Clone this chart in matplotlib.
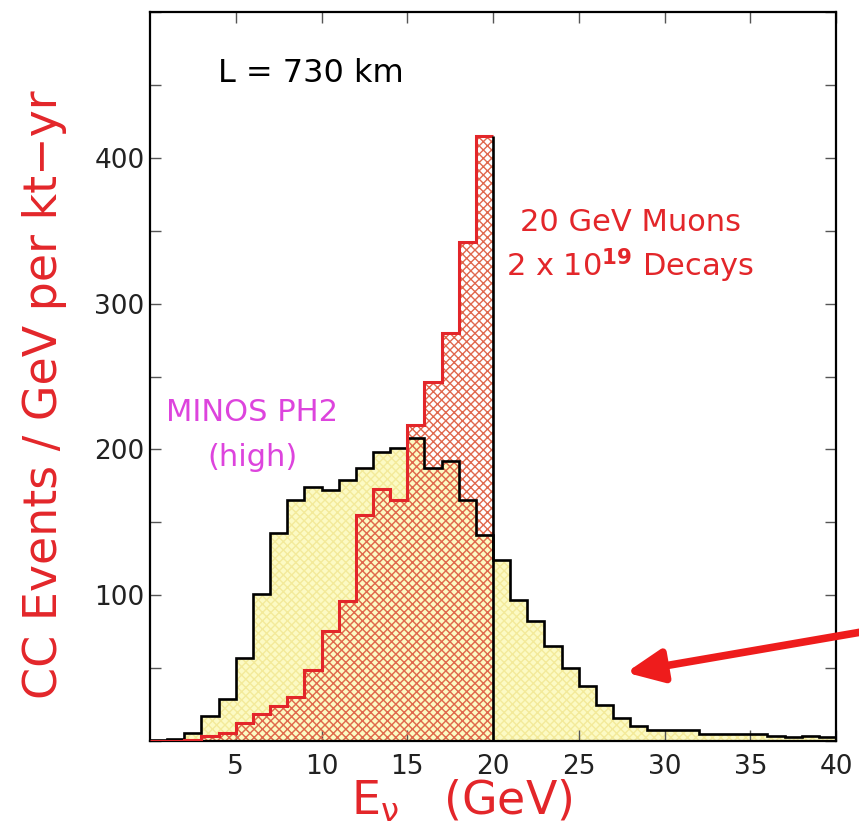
import numpy as np
import matplotlib
matplotlib.use("Agg")
from matplotlib import pyplot as plt
from matplotlib.ticker import MultipleLocator, FixedLocator

plt.rcParams['font.family'] = ['DejaVu Sans']
plt.rcParams['hatch.linewidth'] = 1.0

# 能量分箱 (GeV)
edges_minos = np.arange(0, 41, 1)
edges_muon = np.arange(0, 21, 1)

# MINOS PH2 (high) 谱, 0-40 GeV
minos_ph2 = [0.5, 1.2, 5.5, 17, 28.5, 57, 101, 143, 165, 174,
             172, 179, 187, 198, 201, 208, 187, 192, 165, 141,
             124, 97, 82, 65, 50, 37.5, 24.5, 15.5, 10.5, 7.5,
             7.5, 7.5, 4.8, 4.8, 4.8, 4.8, 3.4, 2.5, 3.7, 2.5]

# 20 GeV 缪子衰变谱, 0-20 GeV
muon_20gev = [0, 0, 1, 3.4, 5.7, 12.5, 18.5, 24, 30, 49,
              75.5, 96, 155, 173, 165, 217, 246, 280, 342, 415]

x_ticks = [5, 10, 15, 20, 25, 30, 35, 40]
y_ticks = [100, 200, 300, 400]

red = '#e3262a'
magenta = '#dd44dd'

fig = plt.figure(figsize=(8.59, 8.24), dpi=100)
ax = fig.add_axes([150 / 859, 1 - 741 / 824, 686 / 859, 729 / 824])

# 填充
ax.stairs(minos_ph2, edges_minos, fill=True, facecolor='#fcfac4',
          edgecolor='#f3ea9a', hatch='xxxx', linewidth=0, zorder=1)
ax.stairs(muon_20gev, edges_muon, fill=True, facecolor='none',
          edgecolor='#e0684e', hatch='xxxx', linewidth=0, zorder=2)

# 轮廓
ax.stairs(minos_ph2, edges_minos, color='black', linewidth=1.9,
          baseline=None, zorder=4)
ax.stairs(muon_20gev, edges_muon, color=red, linewidth=2.2,
          baseline=None, zorder=5)
ax.vlines(20, 0, muon_20gev[-1], color='black', linewidth=1.9, zorder=6)

ax.set_xlim(0, 40)
ax.set_ylim(0, 500)

ax.xaxis.set_major_locator(FixedLocator(x_ticks))
ax.yaxis.set_major_locator(FixedLocator(y_ticks))
ax.yaxis.set_minor_locator(MultipleLocator(50))
ax.tick_params(which='both', direction='in', top=True, right=True,
               length=8, width=1.0, color='#555555')
ax.tick_params(axis='both', labelsize=19, labelcolor='#222222')
ax.tick_params(axis='x', pad=9)
ax.tick_params(axis='y', pad=4)
for s in ax.spines.values():
    s.set_linewidth(1.6)

# 文字
ax.text(3.97, 457.5, 'L = 730 km', fontsize=23, color='black',
        ha='left', va='center')
ax.text(28.0, 355.7, '20 GeV Muons', fontsize=22, color=red,
        ha='center', va='center')
ax.text(28.0, 326, r'2 x 10$^{\mathbf{19}}$ Decays', fontsize=22, color=red,
        ha='center', va='center')
ax.text(5.95, 225.5, 'MINOS PH2', fontsize=22, color=magenta,
        ha='center', va='center')
ax.text(5.95, 194.7, '(high)', fontsize=22, color=magenta,
        ha='center', va='center')

fig.text(45 / 859, 1 - 395 / 824, 'CC Events / GeV per kt\u2212yr',
         fontsize=33, color=red, rotation=90, ha='center', va='center')
fig.text(462 / 859, 1 - 801 / 824, r'$\mathregular{E_{\nu}}$   (GeV)',
         fontsize=33, color=red, ha='center', va='center')

# 箭头
ax.annotate('', xy=(27.6, 46.6), xytext=(41.6, 75),
            arrowprops=dict(arrowstyle='-|>,head_length=2.2,head_width=1.0',
                            color='#ee1c1c', linewidth=5.5),
            annotation_clip=False)

fig.savefig('out.png', dpi=100)
